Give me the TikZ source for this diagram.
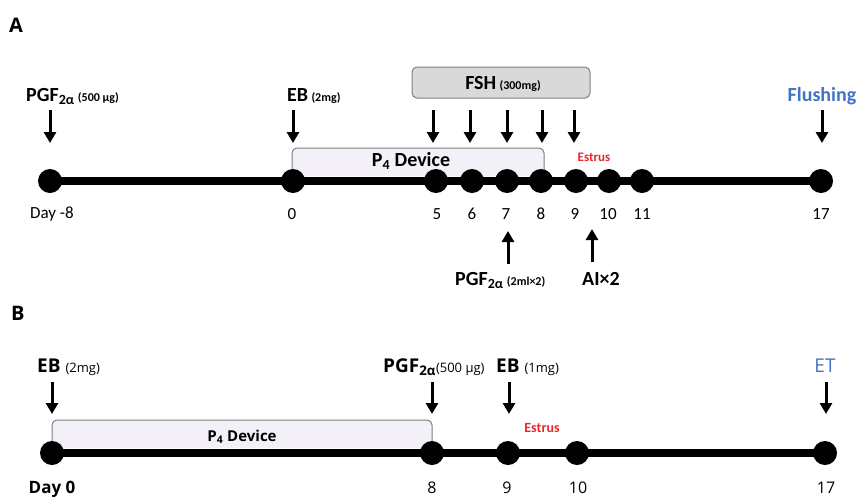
\documentclass[tikz,border=0pt]{standalone}
\usepackage{fontspec}
\setmainfont{Carlito}
\newfontfamily\bfont{Open Sans}
\usetikzlibrary{arrows.meta,backgrounds}
\definecolor{estrusred}{HTML}{E8262B}
\definecolor{etblue}{HTML}{4472C4}
\definecolor{boxgray}{HTML}{D9D9D9}
\definecolor{boxline}{HTML}{7F7F7F}
\definecolor{devfill}{HTML}{F3F0F8}
\newcommand{\fs}[1]{\fontsize{#1}{#1}\selectfont}
\tikzset{
  dot/.style={circle,fill=black,inner sep=0pt,minimum size=24pt},
  tline/.style={line width=8pt},
  arr/.style={line width=3pt,-{Triangle[width=12pt,length=11pt]}},
  daylbl/.style={font=\fs{17}},
  daylblB/.style={font=\bfont\fs{16}},
  estrus/.style={text=estrusred,font=\bfseries\fs{13}},
  devbox/.style={draw=boxline,fill=devfill,line width=1pt,rounded corners=5pt},
  fshbox/.style={draw=boxline,fill=boxgray,line width=1pt,rounded corners=5pt},
  panel/.style={font=\bfont\bfseries\fs{20}}
}
\begin{document}
\begin{tikzpicture}[x=1pt,y=-1pt]
\useasboundingbox (0,0) rectangle (857,496);
% ---------------- Panel A ----------------
\node[panel,anchor=base west,inner sep=0pt] (labA) at (9,32) {A};
\foreach \n/\x in {m8/50,d0/293,d5/436,d6/472,d7/507,d8/541,d9/576,d10/609,d11/642,d17/821}
  \node[dot] (a\n) at (\x,181) {};
\begin{scope}[on background layer]
  \draw[devbox] (292,176) |- (544,148) -- (544,176);
  \draw[tline] (am8.center) -- (ad17.center);
\end{scope}
\node[font=\bfseries\fs{20},anchor=base] (devA) at (411,166) {P\textsubscript{4} Device};
\node[fshbox,minimum width=178pt,minimum height=31pt,inner sep=0pt] (fsh) at (501,82.5) {};
\node[anchor=base,inner sep=0pt] (fshlbl) at (503,89) {\bfseries\fs{20}FSH\,{\fs{12}(300mg)}};
% day labels
\node[daylbl] (tm8) at (52,214) {Day -8};
\node[daylbl] (t0) at (292,214) {0};
\node[daylbl] (t5) at (437,214) {5};
\node[daylbl] (t6) at (472,214) {6};
\node[daylbl] (t7) at (506,214) {7};
\node[daylbl] (t8) at (541,214) {8};
\node[daylbl] (t9) at (575,214) {9};
\node[daylbl] (t10) at (608,214) {10};
\node[daylbl] (t11) at (642,214) {11};
\node[daylbl] (t17) at (821,214) {17};
% top labels
\node[anchor=base west,inner sep=0pt] (pgfA) at (26,101) {\bfseries\fs{20}PGF\textsubscript{2α}\,{\fs{12}(500 μg)}};
\node[anchor=base west,inner sep=0pt] (ebA) at (287,101) {\bfseries\fs{20}EB\,{\fs{12}(2mg)}};
\node[anchor=base,inner sep=0pt,text=etblue] (flush) at (822,101) {\bfseries\fs{20}Flushing};
\node[estrus] (estA) at (594,157) {Estrus};
% down arrows
\foreach \n/\x in {p/50,e/293,f5/433,f6/470,f7/507,f8/542,f9/574,fl/822}{
  \coordinate (s\n) at (\x,110);
  \coordinate (e\n) at (\x,143);
  \draw[arr] (s\n) -- (e\n);
}
% up arrows
\coordinate (upa1) at (508,264);
\coordinate (upb1) at (508,231);
\draw[arr] (upa1) -- (upb1);
\coordinate (upa2) at (592,262);
\coordinate (upb2) at (592,229);
\draw[arr] (upa2) -- (upb2);
\node[anchor=base west,inner sep=0pt] (pgfup) at (455,285) {\bfseries\fs{20}PGF\textsubscript{2α}\,{\fs{12}(2ml×2)}};
\node[anchor=base west,inner sep=0pt] (ai) at (582,285) {\bfseries\fs{20}AI×2};
% ---------------- Panel B ----------------
\node[panel,anchor=base west,inner sep=0pt] (labB) at (11,320) {B};
\foreach \n/\x in {d0/52,d8/432,d9/508,d10/577,d17/825}
  \node[dot] (b\n) at (\x,453) {};
\begin{scope}[on background layer]
  \draw[devbox] (52,448) |- (432,420) -- (432,448);
  \draw[tline] (bd0.center) -- (bd17.center);
\end{scope}
\node[font=\bfont\bfseries\fs{15},anchor=base] (devB) at (242,441) {P\textsubscript{4} Device};
\node[font=\bfont\bfseries\fs{17},anchor=base] (u0) at (52,493) {Day 0};
\node[daylblB,anchor=base] (u8) at (432,493) {8};
\node[daylblB,anchor=base] (u9) at (507,493) {9};
\node[daylblB,anchor=base] (u10) at (578,493) {10};
\node[daylblB,anchor=base] (u17) at (826,493) {17};
\node[anchor=base west,inner sep=0pt] (ebB) at (37,372) {\bfont\bfseries\fs{19}EB\ {\mdseries\fs{13}(2mg)}};
\node[anchor=base west,inner sep=0pt] (pgfB) at (383,372) {\bfont\bfseries\fs{19}PGF\textsubscript{2α}{\mdseries\fs{13}(500 μg)}};
\node[anchor=base west,inner sep=0pt] (ebB2) at (496,372) {\bfont\bfseries\fs{19}EB\ {\mdseries\fs{13}(1mg)}};
\node[anchor=base,inner sep=0pt,text=etblue] (et) at (825,372) {\bfont\fs{19}ET};
\node[estrus,font=\bfseries\fs{14}] (estB) at (542,428) {Estrus};
\foreach \n/\x in {q0/52,q8/432,q9/509,q17/826}{
  \coordinate (s\n) at (\x,382);
  \coordinate (e\n) at (\x,414);
  \draw[arr] (s\n) -- (e\n);
}
\end{tikzpicture}
\end{document}
